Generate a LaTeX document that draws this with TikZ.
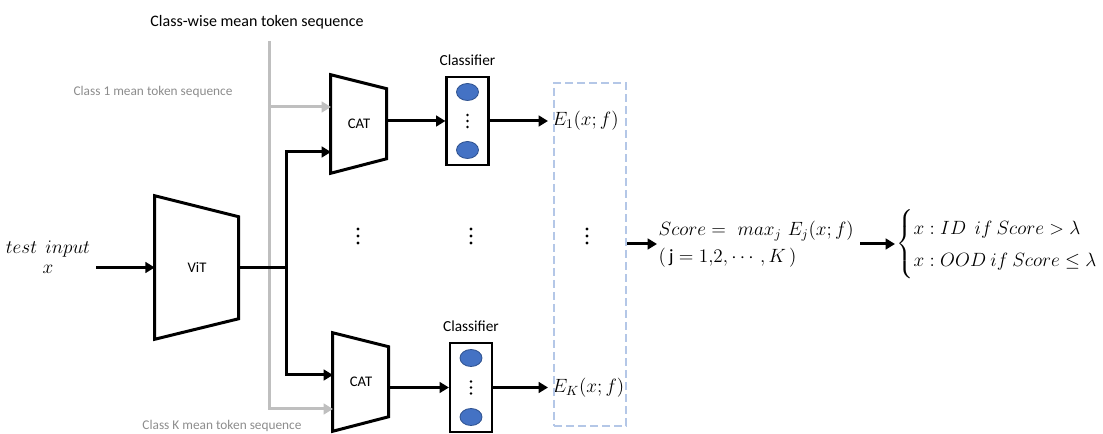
\documentclass[tikz,border=0pt]{standalone}
\usepackage{fontspec}
\setmainfont{Carlito}
\usepackage{amsmath}
\usetikzlibrary{arrows.meta,shapes.geometric,positioning}

\definecolor{tokgray}{HTML}{BFBFBF}
\definecolor{tokgraytext}{HTML}{8C8C8C}
\definecolor{boxblue}{HTML}{B4C7E7}
\definecolor{unitfill}{HTML}{4472C4}
\definecolor{unitdraw}{HTML}{2F528F}

\begin{document}
\begin{tikzpicture}[
x=0.75pt, y=-0.75pt,
block/.style={minimum width=42pt, minimum height=73.5pt, inner sep=0pt, font=\fontsize{11}{13}\selectfont},
trap/.style={line width=2.25pt},
link/.style={line width=2.25pt},
flow/.style={line width=2.25pt, -{Triangle[length=7pt,width=8pt]}},
tokflow/.style={line width=2.25pt, draw=tokgray, -{Triangle[length=7pt,width=8pt]}},
clsbox/.style={draw, line width=1.6pt, minimum width=31.5pt, minimum height=66.5pt, inner sep=0pt},
unit/.style={ellipse, fill=unitfill, draw=unitdraw, line width=0.6pt, minimum width=16.5pt, minimum height=12.75pt, inner sep=0pt},
lbl/.style={font=\fontsize{11.5}{13}\selectfont},
graylbl/.style={text=tokgraytext, font=\fontsize{10}{12}\selectfont},
mathlbl/.style={font=\fontsize{14}{15}\selectfont, inner sep=3pt},
scorelbl/.style={font=\fontsize{14}{20}\selectfont, inner sep=1pt}
]

\useasboundingbox (0,0) rectangle (1103,434);

% labels for the token sequences
\node[font=\fontsize{12}{14}\selectfont] (title) at (257,22) {Class-wise mean token sequence};
\node[graylbl] (tok1lbl) at (153,92) {Class 1 mean token sequence};
\node[graylbl] (tokKlbl) at (222,426) {Class K mean token sequence};

% input and backbone
\node[mathlbl, align=center] (inp) at (48,257) {$test\ \ input$\\$x$};
\coordinate (inx) at (96,267.5);

\node[block, minimum width=63pt, minimum height=107.25pt] (vit) at (197,267.5) {ViT};
\draw[trap] (vit.north west) -- ++(84,21) -- ++(0,102) -- (vit.south west) -- cycle;

% CAT blocks
\node[block] (cat1) at (359,124) {CAT};
\draw[trap] (cat1.north west) -- ++(56,14) -- ++(0,70) -- (cat1.south west) -- cycle;

\node[block] (catK) at (361,382) {CAT};
\draw[trap] (catK.north west) -- ++(56,14) -- ++(0,70) -- (catK.south west) -- cycle;

% gray token lines
\coordinate (tok) at (269,41);
\coordinate (g1) at (331,107);
\coordinate (gK) at (333,409);
\draw[tokflow] (tok) |- (gK);
\draw[tokflow] (tok |- g1) -- (g1);

% feature lines
\coordinate (split) at (286,267.5);
\coordinate (in1) at (331,152);
\coordinate (inK) at (333,375);
\draw[flow] (inx) -- (vit.west);
\draw[link] (vit.east) -- (split);
\draw[flow] (split) |- (in1);
\draw[flow] (split) |- (inK);

% classifiers
\node[clsbox] (cls1) at (467.5,121) {};
\node[lbl, above=4pt of cls1] (cls1lbl) {Classifier};
\node[unit] (u1a) at (467.5,92) {};
\node[unit] (u1b) at (467.5,150) {};
\foreach \dy in {-6,0,6}
  \fill (467.5,121+\dy) circle (1.1pt);

\node[clsbox] (clsK) at (471,387.5) {};
\node[lbl, above=4pt of clsK] (clsKlbl) {Classifier};
\node[unit] (uKa) at (471,358) {};
\node[unit] (uKb) at (471,417) {};
\foreach \dy in {-6,0,6}
  \fill (471,387.5+\dy) circle (1.1pt);

% energies
\node[mathlbl, anchor=west] (e1) at (548,121) {$E_1(x;f)$};
\node[mathlbl, anchor=west] (eK) at (548,387.5) {$E_K(x;f)$};
\node[draw=boxblue, line width=1.5pt, dash pattern=on 6pt off 3pt, minimum width=54pt, minimum height=257.25pt] (ebox) at (590,254.5) {};

\draw[flow] (cat1.east |- cls1) -- (cls1.west);
\draw[flow] (cls1.east) -- (e1.west);
\draw[flow] (catK.east |- clsK) -- (clsK.west);
\draw[flow] (clsK.east) -- (eK.west);

% middle dots
\foreach \x in {358,471,587}
  \foreach \dy in {-7,0,7}
    \fill (\x,236+\dy) circle (1.2pt);

% score and decision
\node[scorelbl, anchor=west, align=left, text width=150pt] (score) at (657,244) {$Score =\ max_j\ E_j(x;f)$\\$(\,\mathrm{j} = 1{,}2, \cdots, K\,)$};
\node[scorelbl, anchor=west] (dec) at (895,244) {$\begin{cases} x : ID\ \ if\ Score > \lambda \\ x : OOD\ if\ Score \le \lambda \end{cases}$};

\draw[flow] (ebox.east |- score.west) -- (score.west);
\draw[flow] (score.east) -- (dec.west);

\end{tikzpicture}
\end{document}
